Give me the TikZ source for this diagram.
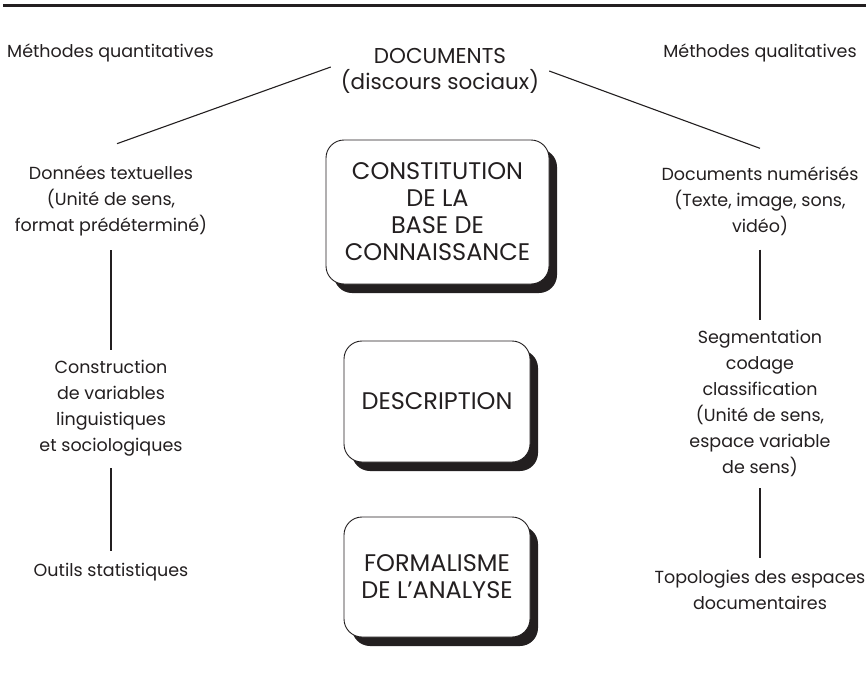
\documentclass[tikz,border=0pt]{standalone}
\usepackage{fontspec}
\setmainfont{Poppins}
\usetikzlibrary{shadows}
\definecolor{ink}{HTML}{231F20}
\begin{document}
\begin{tikzpicture}[x=1pt,y=-1pt,
  lbl/.style={font=\fontsize{17.5}{26}\selectfont, align=center, inner sep=0pt, text=ink},
  title/.style={font=\fontsize{21.5}{26}\selectfont, align=center, inner sep=0pt, text=ink},
  stage/.style={draw=ink, line width=0.9pt, fill=white, rounded corners=18pt,
    font=\fontsize{24}{27}\selectfont, align=center, text=ink, inner sep=0pt,
    drop shadow={shadow xshift=8pt, shadow yshift=-9pt, fill=ink, opacity=1}},
  link/.style={draw=ink, line width=1.1pt}]

% page frame
\fill[white] (0,0) rectangle (868,680);
\useasboundingbox (0,0) rectangle (868,680);

% heading rule
\draw[ink, line width=3.5pt] (3,5.5) -- (866,5.5);

% top row
\node[lbl]   (mquant) at (110.5,53) {Méthodes quantitatives};
\node[lbl]   (mqual)  at (760,53)   {Méthodes qualitatives};
\node[title] (docs)   at (440,71)   {DOCUMENTS\\(discours sociaux)};

% central stages
\node[stage, minimum width=223pt, minimum height=144pt] (base) at (437.5,212)
  {CONSTITUTION\\DE LA\\BASE DE\\CONNAISSANCE};
\node[stage, minimum width=186pt, minimum height=121pt] (desc) at (437,401.5)
  {DESCRIPTION};
\node[stage, minimum width=186pt, minimum height=120pt] (form) at (437,577)
  {FORMALISME\\DE L’ANALYSE};

% quantitative branch
\node[lbl] (donnees) at (111,201)
  {Données textuelles\\(Unité de sens,\\format prédéterminé)};
\node[lbl] (constr) at (111,408)
  {Construction\\de variables\\linguistiques\\et sociologiques};
\node[lbl] (outils) at (111,572) {Outils statistiques};

% qualitative branch
\node[lbl] (numer) at (760,201)
  {Documents numérisés\\(Texte, image, sons,\\vidéo)};
\node[lbl] (segm) at (760,403)
  {Segmentation\\codage\\classification\\(Unité de sens,\\espace variable\\de sens)};
\node[lbl] (topo) at (760,590)
  {Topologies des espaces\\documentaires};

% connectors
\draw[link] ([shift={(-10,-4)}]docs.west) -- ([shift={(6,-22)}]donnees.north);
\draw[link] ([shift={(10,0)}]docs.east) -- ([shift={(0,-18)}]numer.north);
\draw[link, shorten <=14pt, shorten >=10pt] (donnees.south) -- (constr.north);
\draw[link, shorten <=12pt, shorten >=12pt] (constr.south) -- (outils.north);
\draw[link, shorten <=14pt, shorten >=10pt] (numer.south) -- (segm.north);
\draw[link, shorten <=12pt, shorten >=12pt] (segm.south) -- (topo.north);
\end{tikzpicture}
\end{document}
